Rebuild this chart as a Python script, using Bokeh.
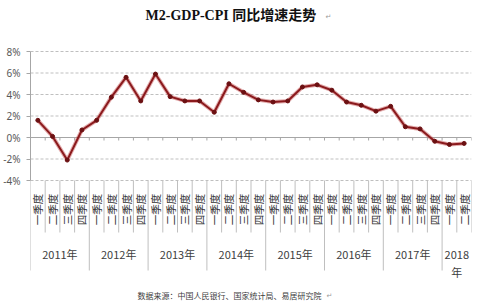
import math
from bokeh.plotting import figure
from bokeh.models import Range1d, LinearAxis, FixedTicker
from bokeh.core.properties import value
from bokeh.embed import file_html
from bokeh.resources import INLINE

# ---------------- data ----------------
title_text = "M2-GDP-CPI 同比增速走势"
source_text = "数据来源：中国人民银行、国家统计局、易居研究院"
years = ["2011年", "2012年", "2013年", "2014年", "2015年", "2016年", "2017年", "2018\n年"]
quarters_per_year = [4, 4, 4, 4, 4, 4, 4, 2]
quarter_names = ["一季度", "二季度", "三季度", "四季度"]
values = [
    1.6, 0.1, -2.1, 0.7,      # 2011
    1.6, 3.75, 5.6, 3.4,      # 2012
    5.9, 3.8, 3.4, 3.4,       # 2013
    2.35, 5.0, 4.2, 3.5,      # 2014
    3.3, 3.4, 4.7, 4.9,       # 2015
    4.4, 3.3, 3.0, 2.45,      # 2016
    2.9, 1.0, 0.8, -0.35,     # 2017
    -0.65, -0.55,             # 2018
]
y_ticks = [-4, -2, 0, 2, 4, 6, 8]

# ---------------- layout helpers ----------------
W, H = 480, 307
LEFT, RIGHT = 30, 471
PIX_TOP, PIX_BOT = 51, 180          # pixel rows of 8% and -4%
N = len(values)
ppu = (PIX_BOT - PIX_TOP) / (y_ticks[-1] - y_ticks[0])
cat_w = (RIGHT - LEFT) / N


def py(pix):
    return y_ticks[-1] - (pix - PIX_TOP) / ppu


def px(pix):
    return (pix - LEFT) / cat_w


p = figure(width=W, height=H, x_range=Range1d(0, N), y_range=Range1d(py(H), py(0)),
           output_backend="svg", toolbar_location=None,
           x_axis_type=None, y_axis_type=None,
           min_border_left=LEFT, min_border_right=W - RIGHT,
           min_border_top=0, min_border_bottom=0)
p.outline_line_color = None
p.background_fill_color = "white"
p.border_fill_color = "white"

grid_col = "#bfbfbf"
axis_col = "#a6a6a6"

# y axis
yaxis = LinearAxis(ticker=FixedTicker(ticks=y_ticks), bounds=(y_ticks[0], y_ticks[-1]),
                   major_label_overrides={t: f"{t}%" for t in y_ticks},
                   axis_line_color=axis_col, major_tick_line_color=axis_col,
                   major_tick_out=4, major_tick_in=0, minor_tick_line_color=None,
                   major_label_text_font_size="10px", major_label_text_color="#595959",
                   major_label_text_font="Noto Sans", major_label_standoff=6)
p.add_layout(yaxis, "left")

# gridlines
gy = [t for t in y_ticks if t != 0]
p.segment(x0=[0] * len(gy), x1=[N] * len(gy), y0=gy, y1=gy,
          line_color=grid_col, line_width=1, line_dash="3 2")
p.segment(x0=[0], x1=[N], y0=[0], y1=[0], line_color=axis_col, line_width=1)
# small ticks on the zero line at category boundaries
bx = list(range(0, N + 1))
p.segment(x0=bx, x1=bx, y0=[0] * len(bx), y1=[py(PIX_TOP + 8 * ppu + 3)] * len(bx),
          line_color=axis_col, line_width=1)

# category separators below the plot
year_starts = []
s = 0
for n in quarters_per_year:
    year_starts.append(s)
    s += n
q_sep = [b for b in range(1, N + 1) if b not in year_starts]
p.segment(x0=q_sep, x1=q_sep, y0=[py(PIX_BOT)] * len(q_sep), y1=[py(232)] * len(q_sep),
          line_color=grid_col, line_width=1)
p.segment(x0=year_starts, x1=year_starts, y0=[py(PIX_BOT)] * len(year_starts),
          y1=[py(270)] * len(year_starts), line_color=grid_col, line_width=1)

# quarter labels
xs = [i + 0.5 for i in range(N)]
q_labels = []
for n in quarters_per_year:
    q_labels += quarter_names[:n]
p.text(x=xs, y=[py(209)] * N, text=q_labels, angle=math.pi / 2,
       text_align="center", text_baseline="middle",
       text_font=value("Noto Sans CJK SC"), text_font_size="10.5px", text_color="#333333")

# year labels
year_centers = [st + n / 2 for st, n in zip(year_starts, quarters_per_year)]
p.text(x=year_centers, y=[py(245)] * len(years), text=years,
       text_align="center", text_baseline="top", text_line_height=1.15,
       text_font=value("Noto Sans CJK SC"), text_font_size="11px", text_color="#404040")

# data line
p.line(xs, values, line_color="#c0474a", line_width=4, line_alpha=0.45)
p.line(xs, values, line_color="#8b1a1d", line_width=2)
p.scatter(xs, values, size=4, color="#6b1012")

# title and source
p.text(x=[px(145)], y=[py(15)], text=[title_text], text_align="left", text_baseline="middle",
       text_font=value("Liberation Serif, Noto Sans CJK SC"), text_font_style="bold",
       text_font_size="14px", text_color="#111111")
p.text(x=[px(328)], y=[py(16)], text=["↵"], text_align="center", text_baseline="middle",
       text_font=value("DejaVu Sans"), text_font_size="7px", text_color="#999999")
p.text(x=[px(137)], y=[py(295)], text=[source_text], text_align="left", text_baseline="middle",
       text_font=value("Noto Sans CJK SC"), text_font_size="8px", text_color="#404040")
p.text(x=[px(329)], y=[py(295)], text=["↵"], text_align="center", text_baseline="middle",
       text_font=value("DejaVu Sans"), text_font_size="7px", text_color="#999999")

open("out.html", "w").write(file_html(p, INLINE))
